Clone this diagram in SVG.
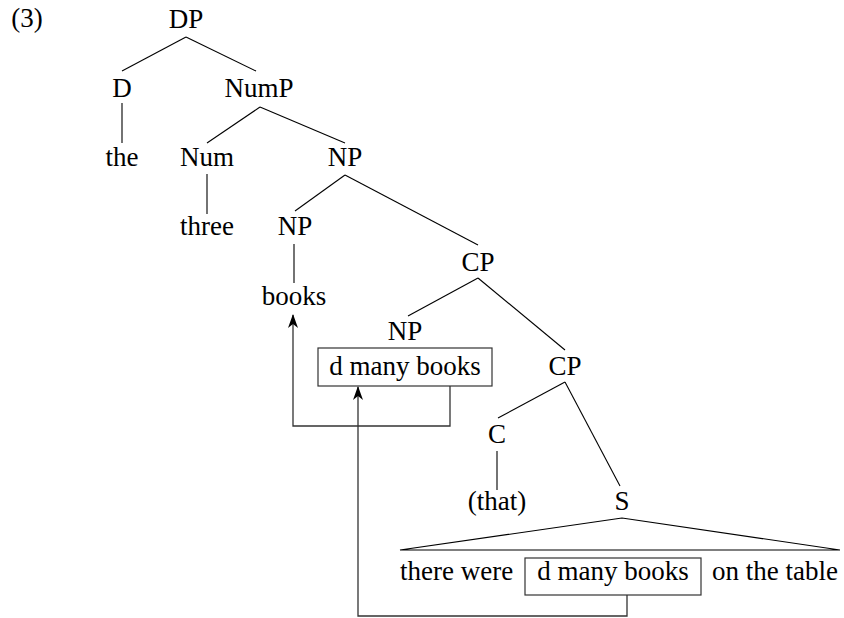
<svg xmlns="http://www.w3.org/2000/svg" width="844" height="618" viewBox="0 0 844 618">
<style>
.e{stroke:#000;stroke-width:1.1;fill:none}
.box{stroke:#333;stroke-width:1.2;fill:none}
.mv{stroke:#333;stroke-width:1.3;fill:none}
</style>
<defs>
<marker id="ah" viewBox="0 0 14 10" refX="13" refY="5" markerWidth="14" markerHeight="10" orient="auto" markerUnits="userSpaceOnUse">
<path d="M0,0 L14,5 L0,10 L4,5 Z" fill="#000"/>
</marker>
</defs>
<g id="edges">
<line class="e" x1="186" y1="37" x2="122" y2="71"/>
<line class="e" x1="186" y1="37" x2="256" y2="71"/>
<line class="e" x1="122" y1="103" x2="122" y2="143"/>
<line class="e" x1="260" y1="107" x2="207" y2="143"/>
<line class="e" x1="260" y1="107" x2="345" y2="143"/>
<line class="e" x1="207" y1="174" x2="207" y2="214"/>
<line class="e" x1="345" y1="175" x2="295" y2="211"/>
<line class="e" x1="345" y1="175" x2="478" y2="245"/>
<line class="e" x1="294" y1="244" x2="294" y2="283"/>
<line class="e" x1="478" y1="278" x2="408" y2="316"/>
<line class="e" x1="478" y1="278" x2="565" y2="350"/>
<line class="e" x1="565" y1="382" x2="498" y2="418"/>
<line class="e" x1="565" y1="382" x2="620" y2="486"/>
<line class="e" x1="497" y1="451" x2="497" y2="490"/>
<path class="e" d="M622,518 L400,550 L840,550 Z"/>
</g>
<g id="movement">
<path class="mv" d="M450,386 V426 H293 V315" marker-end="url(#ah)"/>
<path class="mv" d="M627,595 V616 H358 V387" marker-end="url(#ah)"/>
</g>
<g font-family="Liberation Serif" font-size="27" text-anchor="middle" fill="#000">
<text x="27" y="27">(3)</text>
<g id="n-DP"><text x="186" y="28">DP</text></g>
<g id="n-D"><text x="122" y="97">D</text></g>
<g id="n-NumP"><text x="259" y="97">NumP</text></g>
<g id="n-the"><text x="122" y="166">the</text></g>
<g id="n-Num"><text x="207" y="166">Num</text></g>
<g id="n-NP1"><text x="345" y="166">NP</text></g>
<g id="n-three"><text x="207" y="235">three</text></g>
<g id="n-NP2"><text x="295" y="235">NP</text></g>
<g id="n-books"><text x="294" y="305">books</text></g>
<g id="n-CP1"><text x="478" y="271">CP</text></g>
<g id="n-NP3"><text x="405" y="340">NP</text></g>
<g id="n-dmb1"><rect class="box" x="318" y="348" width="174" height="38"/><text x="405" y="375">d many books</text></g>
<g id="n-CP2"><text x="565" y="375">CP</text></g>
<g id="n-C"><text x="497" y="443">C</text></g>
<g id="n-that"><text x="497" y="510">(that)</text></g>
<g id="n-S"><text x="622" y="510">S</text></g>
<g id="n-sentence">
<text x="400" y="580" text-anchor="start">there were</text>
<rect class="box" x="525" y="558" width="176" height="37"/>
<text x="613" y="580">d many books</text>
<text x="838" y="580" text-anchor="end">on the table</text>
</g>
</g>
</svg>
